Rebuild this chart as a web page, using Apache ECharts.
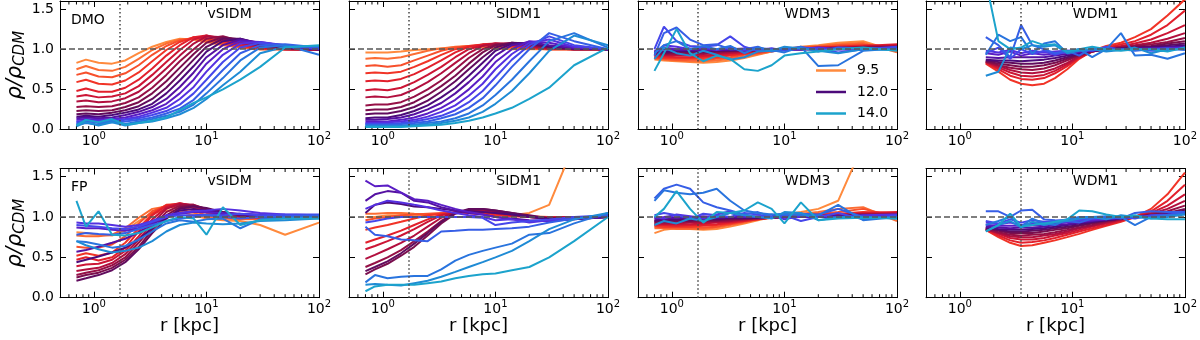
<!DOCTYPE html>
<html>
<head>
<meta charset="utf-8">
<script src="https://cdn.jsdelivr.net/npm/echarts@6/dist/echarts.min.js"></script>
<style>
  html, body { margin: 0; padding: 0; background: #fff; }
  #chart { width: 1200px; height: 340px; }
</style>
</head>
<body>
<div id="chart"></div>
<script>
// radii (kpc) where the profiles are sampled
var radii = [0.7, 0.85, 1.1, 1.45, 1.9, 2.5, 3.3, 4.4, 5.8, 7.7, 10, 14, 20, 30, 50, 100];
var radiiWdm1 = [1.7, 2.2, 2.8, 3.5, 4.4, 5.6, 7, 9, 11.5, 15, 20, 27, 36, 50, 70, 100];
var minorTicks = [0.6, 0.7, 0.8, 0.9, 2, 3, 4, 5, 6, 7, 8, 9, 20, 30, 40, 50, 60, 70, 80, 90];

var massLabels = ['9.5', '9.75', '10.0', '10.25', '10.5', '10.75', '11.0', '11.25', '11.5', '11.75',
                  '12.0', '12.25', '12.5', '12.75', '13.0', '13.25', '13.5', '13.75', '14.0'];
var lineColors = ['#ff8a3d', '#fc6d33', '#f7502c', '#f13427', '#e2202c', '#cc1535', '#b20f3e', '#961046',
                  '#7a0e4d', '#610c5e', '#4c0a7a', '#5511a2', '#5a1dc4', '#5530e0', '#4646ea', '#365ee6',
                  '#2974de', '#1f8bd5', '#1ca3cc'];

var modelNames = ['vSIDM', 'SIDM1', 'WDM3', 'WDM1'];
var runNames = ['DMO', 'FP'];
var rCut = [1.7, 1.7, 1.7, 3.5];
var legendNames = ['9.5', '12.0', '14.0'];

// rho / rho_CDM, one row per halo mass (9.5 ... 14.0)
var dmoVsidm = [
  [0.83,0.87,0.83,0.82,0.86,0.95,1.03,1.09,1.13,1.12,1.09,1.05,1.02,1.0,1.0,1.0],
  [0.75,0.79,0.74,0.73,0.78,0.88,0.99,1.07,1.12,1.13,1.1,1.06,1.02,1.0,1.0,1.0],
  [0.68,0.71,0.66,0.65,0.70,0.80,0.93,1.04,1.11,1.14,1.12,1.07,1.03,1.0,1.0,1.0],
  [0.59,0.62,0.57,0.56,0.61,0.71,0.85,0.99,1.09,1.15,1.14,1.09,1.04,1.01,1.0,1.0],
  [0.48,0.51,0.47,0.47,0.52,0.62,0.76,0.92,1.05,1.15,1.17,1.11,1.05,1.01,1.0,1.0],
  [0.41,0.43,0.40,0.41,0.45,0.54,0.68,0.84,0.99,1.12,1.17,1.13,1.07,1.02,1.0,0.99],
  [0.35,0.36,0.34,0.35,0.39,0.47,0.60,0.76,0.92,1.07,1.16,1.15,1.09,1.03,1.0,0.99],
  [0.28,0.29,0.28,0.29,0.33,0.40,0.52,0.68,0.85,1.0,1.13,1.16,1.1,1.04,1.01,1.0],
  [0.23,0.24,0.23,0.24,0.28,0.34,0.45,0.60,0.77,0.94,1.08,1.15,1.12,1.05,1.01,1.0],
  [0.19,0.20,0.19,0.21,0.24,0.29,0.38,0.52,0.69,0.87,1.03,1.13,1.13,1.06,1.02,1.0],
  [0.16,0.17,0.16,0.18,0.21,0.25,0.32,0.45,0.61,0.79,0.97,1.1,1.13,1.07,1.02,1.0],
  [0.14,0.15,0.14,0.15,0.18,0.22,0.28,0.38,0.53,0.71,0.9,1.05,1.12,1.08,1.03,1.0],
  [0.12,0.13,0.12,0.13,0.15,0.19,0.24,0.32,0.45,0.62,0.82,1.0,1.1,1.09,1.04,1.0],
  [0.10,0.11,0.11,0.12,0.13,0.16,0.21,0.27,0.38,0.53,0.72,0.93,1.07,1.09,1.05,1.0],
  [0.09,0.10,0.09,0.10,0.12,0.14,0.18,0.23,0.31,0.45,0.62,0.84,1.02,1.08,1.05,1.01],
  [0.07,0.12,0.08,0.09,0.10,0.12,0.15,0.20,0.26,0.37,0.53,0.74,0.95,1.05,1.06,1.02],
  [0.06,0.08,0.06,0.11,0.07,0.10,0.13,0.17,0.22,0.31,0.45,0.64,0.86,1.02,1.05,0.93],
  [0.04,0.09,0.05,0.09,0.05,0.08,0.10,0.14,0.19,0.27,0.38,0.55,0.72,0.95,1.03,1.04],
  [0.05,0.12,0.09,0.13,0.06,0.08,0.11,0.15,0.24,0.33,0.40,0.50,0.62,0.78,1.02,1.05]
];
var dmoSidm1 = [
  [0.96,0.96,0.96,0.97,0.99,1.0,1.01,1.02,1.02,1.02,1.01,1.0,1.0,1.0,1.0,1.0],
  [0.88,0.89,0.88,0.9,0.94,0.98,1.01,1.03,1.04,1.04,1.03,1.02,1.01,1.0,1.0,1.0],
  [0.79,0.8,0.78,0.8,0.86,0.92,0.98,1.02,1.04,1.05,1.04,1.02,1.01,1.0,1.0,1.0],
  [0.70,0.71,0.70,0.72,0.78,0.85,0.93,1.0,1.04,1.06,1.06,1.04,1.02,1.0,1.0,1.0],
  [0.60,0.61,0.60,0.63,0.69,0.77,0.86,0.96,1.03,1.06,1.07,1.05,1.02,1.01,1.0,1.0],
  [0.49,0.5,0.49,0.52,0.59,0.68,0.78,0.9,1.0,1.05,1.07,1.06,1.03,1.01,1.0,1.0],
  [0.40,0.41,0.40,0.43,0.5,0.59,0.7,0.83,0.95,1.04,1.07,1.07,1.04,1.01,1.0,1.0],
  [0.30,0.31,0.31,0.34,0.41,0.5,0.61,0.75,0.89,1.0,1.06,1.07,1.05,1.02,1.0,1.0],
  [0.24,0.25,0.25,0.28,0.34,0.43,0.54,0.67,0.82,0.96,1.05,1.08,1.06,1.02,1.0,1.0],
  [0.19,0.2,0.2,0.23,0.28,0.36,0.47,0.6,0.75,0.9,1.02,1.08,1.07,1.03,1.01,1.0],
  [0.14,0.15,0.15,0.18,0.23,0.3,0.4,0.52,0.67,0.83,0.98,1.07,1.08,1.04,1.01,1.0],
  [0.12,0.12,0.13,0.15,0.19,0.25,0.33,0.45,0.59,0.75,0.92,1.05,1.09,1.05,1.01,1.0],
  [0.10,0.1,0.1,0.12,0.15,0.2,0.27,0.37,0.5,0.66,0.84,1.0,1.1,1.08,1.02,1.0],
  [0.08,0.08,0.09,0.1,0.12,0.16,0.22,0.3,0.42,0.57,0.75,0.94,1.08,1.12,1.03,1.0],
  [0.07,0.07,0.07,0.08,0.1,0.13,0.17,0.24,0.34,0.48,0.65,0.87,1.05,1.16,1.05,1.0],
  [0.06,0.06,0.06,0.07,0.08,0.1,0.14,0.19,0.27,0.39,0.55,0.78,1.0,1.2,1.1,1.0],
  [0.05,0.05,0.05,0.05,0.06,0.08,0.1,0.14,0.2,0.3,0.43,0.62,0.85,1.1,1.2,1.02],
  [0.04,0.04,0.04,0.04,0.05,0.06,0.08,0.11,0.15,0.22,0.32,0.48,0.7,0.98,1.17,1.05],
  [0.03,0.03,0.03,0.03,0.04,0.05,0.06,0.08,0.11,0.15,0.2,0.27,0.38,0.52,0.8,1.02]
];
var dmoWdm3 = [
  [0.87,0.86,0.85,0.84,0.83,0.84,0.86,0.89,0.93,0.97,1.0,1.03,1.05,1.08,1.1,0.97],
  [0.88,0.87,0.86,0.85,0.85,0.86,0.88,0.91,0.94,0.97,1.0,1.02,1.04,1.06,1.08,0.96],
  [0.89,0.88,0.87,0.87,0.87,0.88,0.9,0.93,0.95,0.98,1.0,1.02,1.03,1.05,1.06,1.0],
  [0.9,0.89,0.89,0.89,0.89,0.9,0.92,0.94,0.96,0.98,1.0,1.01,1.02,1.03,1.05,1.04],
  [0.91,0.91,0.9,0.9,0.91,0.92,0.93,0.95,0.97,0.99,1.0,1.01,1.02,1.03,1.04,1.06],
  [0.92,0.92,0.92,0.92,0.92,0.93,0.95,0.96,0.98,0.99,1.0,1.01,1.02,1.02,1.03,1.05],
  [0.93,0.93,0.93,0.93,0.94,0.95,0.96,0.97,0.98,0.99,1.0,1.0,1.01,1.02,1.03,1.04],
  [0.94,0.94,0.94,0.95,0.95,0.96,0.97,0.98,0.99,1.0,1.0,1.0,1.01,1.01,1.02,1.03],
  [0.95,0.95,0.96,0.96,0.96,0.97,0.98,0.98,0.99,1.0,1.0,1.0,1.01,1.01,1.02,1.02],
  [0.96,0.96,0.97,0.97,0.97,0.98,0.98,0.99,0.99,1.0,1.0,1.0,1.0,1.01,1.01,1.02],
  [0.97,0.97,0.98,0.98,0.98,0.99,0.99,0.99,1.0,1.0,1.0,1.0,1.0,1.01,1.01,1.01],
  [0.98,1.0,0.99,0.99,0.99,0.99,1.0,1.0,1.0,1.0,1.0,1.0,1.0,1.0,1.01,1.01],
  [0.96,1.02,1.0,1.01,1.0,1.0,1.0,1.01,1.0,1.0,1.0,1.0,1.01,1.0,1.0,1.02],
  [0.95,1.05,1.03,1.0,1.02,0.99,1.02,0.98,1.0,1.01,0.99,1.0,1.02,1.0,0.99,1.02],
  [1.0,1.28,1.1,1.04,1.03,1.05,1.16,1.03,0.98,1.01,0.98,1.02,1.01,0.96,1.0,1.03],
  [0.92,1.2,1.27,1.12,1.05,1.06,1.0,1.0,1.03,0.97,1.0,1.03,0.97,1.02,1.01,1.0],
  [0.95,1.05,1.1,1.0,1.04,1.0,1.04,0.95,1.02,0.99,0.96,1.03,0.79,0.8,0.98,1.01],
  [0.88,1.02,0.95,0.92,0.98,0.93,0.87,0.9,0.97,0.98,1.03,1.01,0.98,0.95,1.0,0.99],
  [0.73,0.95,1.25,0.95,0.85,0.92,0.88,0.75,0.73,0.8,0.92,0.95,0.97,1.0,1.02,0.98]
];
var dmoWdm1 = [
  null, null, null,
  [0.82,0.72,0.62,0.57,0.55,0.57,0.64,0.75,0.88,0.98,1.04,1.08,1.15,1.25,1.42,1.62],
  [0.83,0.75,0.67,0.63,0.62,0.64,0.7,0.79,0.89,0.97,1.02,1.06,1.1,1.18,1.3,1.48],
  [0.84,0.77,0.71,0.67,0.66,0.68,0.73,0.81,0.9,0.97,1.01,1.04,1.07,1.12,1.2,1.3],
  [0.84,0.79,0.74,0.71,0.7,0.72,0.76,0.83,0.91,0.97,1.0,1.03,1.05,1.08,1.13,1.2],
  [0.85,0.8,0.77,0.75,0.74,0.76,0.8,0.86,0.92,0.97,1.0,1.02,1.04,1.06,1.09,1.14],
  [0.85,0.82,0.8,0.78,0.78,0.8,0.83,0.88,0.93,0.97,1.0,1.01,1.03,1.04,1.07,1.1],
  [0.86,0.84,0.83,0.82,0.82,0.83,0.86,0.9,0.94,0.98,1.0,1.01,1.02,1.03,1.05,1.07],
  [0.87,0.86,0.86,0.85,0.86,0.87,0.89,0.92,0.95,0.98,1.0,1.01,1.01,1.02,1.03,1.05],
  [0.9,0.89,0.9,0.9,0.9,0.9,0.92,0.94,0.96,0.98,1.0,1.0,1.01,1.01,1.02,1.03],
  [0.95,0.93,0.97,0.92,0.95,0.93,0.95,0.96,0.97,0.99,1.0,1.0,1.0,1.01,1.01,1.02],
  [0.98,0.96,0.99,0.95,0.98,0.96,0.97,0.98,0.99,0.99,1.0,1.0,1.0,1.0,1.01,1.01],
  [0.95,1.02,0.88,1.0,0.94,0.98,0.93,0.97,1.0,0.98,1.03,0.99,1.0,0.98,0.98,1.02],
  [1.15,1.05,0.9,1.3,1.05,1.0,0.95,0.98,0.92,1.02,0.99,1.0,0.98,1.0,1.01,0.99],
  [0.93,1.18,1.1,1.15,0.95,1.07,1.1,0.95,1.0,0.9,1.0,1.2,0.92,0.93,0.88,0.95],
  [0.67,0.72,1.02,1.0,1.05,1.03,1.05,0.95,0.98,1.0,0.97,0.99,1.02,0.95,1.0,1.0],
  [1.85,1.1,1.0,1.02,1.1,1.05,1.06,0.97,1.0,1.03,1.0,0.98,1.0,1.0,0.97,1.02]
];
var fpVsidm = [
  [0.81,0.8,0.78,0.77,0.83,0.95,1.05,1.08,1.07,1.02,0.98,0.96,0.95,0.9,0.78,0.93],
  [0.77,0.76,0.76,0.78,0.86,0.99,1.1,1.13,1.1,1.05,1.0,0.98,0.97,0.97,0.98,1.0],
  [0.63,0.62,0.62,0.66,0.76,0.92,1.07,1.14,1.13,1.08,1.02,0.99,0.98,0.98,0.99,1.0],
  [0.52,0.55,0.52,0.56,0.68,0.86,1.04,1.15,1.16,1.11,1.05,1.01,0.99,0.99,1.0,1.0],
  [0.47,0.5,0.46,0.5,0.62,0.82,1.02,1.14,1.17,1.13,1.07,1.02,1.0,0.99,1.0,1.0],
  [0.39,0.41,0.42,0.47,0.58,0.76,0.97,1.12,1.17,1.14,1.08,1.03,1.0,1.0,1.0,1.0],
  [0.33,0.35,0.37,0.43,0.54,0.72,0.92,1.1,1.16,1.15,1.09,1.04,1.01,1.0,1.0,1.0],
  [0.28,0.31,0.34,0.4,0.5,0.68,0.88,1.06,1.14,1.15,1.1,1.05,1.02,1.0,1.0,1.0],
  [0.25,0.28,0.31,0.37,0.47,0.63,0.84,1.02,1.12,1.14,1.1,1.06,1.02,1.0,1.0,1.0],
  [0.21,0.24,0.28,0.34,0.44,0.6,0.8,0.98,1.1,1.13,1.11,1.06,1.03,1.01,1.0,1.0],
  [0.44,0.47,0.51,0.56,0.62,0.72,0.86,0.99,1.08,1.1,1.08,1.05,1.03,1.02,1.01,1.0],
  [0.57,0.59,0.63,0.68,0.73,0.81,0.91,1.0,1.05,1.07,1.06,1.04,1.03,1.02,1.01,1.0],
  [0.87,0.86,0.86,0.84,0.83,0.86,0.93,1.0,1.04,1.06,1.06,1.05,1.04,1.03,1.02,1.02],
  [0.93,0.92,0.92,0.9,0.88,0.9,0.95,1.02,1.05,1.07,1.08,1.1,1.08,1.05,1.03,1.02],
  [0.9,0.89,0.88,0.86,0.85,0.88,0.94,1.0,1.02,1.02,1.03,1.02,1.04,1.02,1.03,1.03],
  [0.78,0.8,0.79,0.78,0.8,0.85,0.9,0.95,0.98,1.0,1.02,1.0,0.98,1.0,1.01,1.02],
  [0.7,0.69,0.66,0.62,0.64,0.72,0.82,0.92,0.96,0.94,0.97,0.98,0.86,0.97,0.99,1.0],
  [0.7,0.65,0.6,0.56,0.58,0.62,0.7,0.82,0.9,0.93,0.92,0.91,0.92,0.95,0.96,0.98],
  [1.2,0.88,1.07,0.78,0.77,0.8,0.87,0.95,1.0,0.98,0.78,1.12,0.9,0.96,0.98,0.98]
];
var fpSidm1 = [
  [1.0,1.0,1.02,1.02,1.01,1.02,1.04,1.05,1.05,1.04,1.03,1.02,1.05,1.15,1.9,1.9],
  [1.04,1.04,1.05,1.05,1.04,1.03,1.04,1.05,1.05,1.04,1.03,1.02,1.01,1.0,1.0,1.0],
  [0.96,0.98,1.0,1.02,1.03,1.04,1.05,1.05,1.05,1.04,1.03,1.02,1.0,0.99,1.0,1.0],
  [0.84,0.87,0.9,0.94,0.98,1.02,1.04,1.05,1.05,1.04,1.02,1.01,1.0,0.99,1.0,1.0],
  [0.68,0.72,0.77,0.83,0.9,0.97,1.03,1.06,1.07,1.06,1.04,1.02,1.0,0.99,1.0,1.0],
  [0.6,0.64,0.7,0.77,0.85,0.94,1.02,1.06,1.08,1.07,1.05,1.02,1.0,0.99,1.0,1.0],
  [0.48,0.53,0.6,0.68,0.77,0.88,0.99,1.06,1.08,1.08,1.06,1.03,1.0,0.99,1.0,1.0],
  [0.38,0.43,0.5,0.59,0.7,0.82,0.95,1.05,1.09,1.09,1.07,1.04,1.01,0.98,0.99,1.0],
  [0.29,0.35,0.42,0.52,0.63,0.77,0.92,1.04,1.09,1.1,1.08,1.05,1.01,0.98,0.98,1.0],
  [0.33,0.38,0.45,0.55,0.67,0.8,0.94,1.05,1.1,1.1,1.08,1.05,1.02,0.98,0.98,1.0],
  [1.05,1.15,1.18,1.16,1.13,1.12,1.1,1.08,1.07,1.06,1.05,1.03,1.0,0.97,0.97,1.0],
  [1.2,1.28,1.32,1.3,1.2,1.18,1.12,1.08,1.05,1.03,1.0,0.98,0.96,0.95,0.97,1.0],
  [1.45,1.38,1.39,1.3,1.22,1.2,1.15,1.1,1.06,1.03,1.0,0.97,0.95,0.95,0.98,1.02],
  [1.1,1.15,1.2,1.18,1.15,1.12,1.08,1.05,1.02,1.0,0.96,0.97,0.93,0.96,0.98,1.02],
  [0.93,0.95,0.98,1.0,1.0,1.0,1.0,1.0,1.0,0.99,0.9,0.93,0.95,0.97,1.0,1.02],
  [0.88,0.78,0.76,0.72,0.71,0.7,0.82,0.83,0.84,0.84,0.85,0.86,0.88,0.93,0.98,1.02],
  [0.19,0.28,0.24,0.26,0.27,0.27,0.35,0.46,0.53,0.58,0.62,0.67,0.78,0.8,0.92,1.05],
  [0.16,0.17,0.16,0.15,0.18,0.21,0.26,0.32,0.38,0.44,0.5,0.58,0.7,0.85,0.97,1.05],
  [0.08,0.14,0.16,0.16,0.16,0.18,0.2,0.24,0.27,0.29,0.3,0.34,0.38,0.5,0.7,1.0]
];
var fpWdm3 = [
  [0.8,0.84,0.86,0.85,0.84,0.85,0.88,0.92,0.96,1.0,1.03,1.06,1.1,1.2,1.9,1.9],
  [0.86,0.86,0.85,0.85,0.85,0.87,0.9,0.93,0.97,1.0,1.02,1.04,1.06,1.1,1.12,0.95],
  [0.88,0.87,0.87,0.87,0.87,0.88,0.91,0.94,0.97,1.0,1.02,1.03,1.04,1.06,1.1,1.0],
  [0.89,0.88,0.88,0.88,0.89,0.9,0.92,0.95,0.97,0.99,1.01,1.02,1.03,1.04,1.06,1.05],
  [0.9,0.9,0.89,0.9,0.9,0.91,0.93,0.95,0.97,0.99,1.0,1.01,1.02,1.03,1.05,1.06],
  [0.91,0.91,0.91,0.91,0.92,0.93,0.94,0.96,0.98,0.99,1.0,1.01,1.02,1.03,1.04,1.05],
  [0.92,0.92,0.92,0.93,0.93,0.94,0.95,0.97,0.98,0.99,1.0,1.01,1.01,1.02,1.03,1.04],
  [0.93,0.93,0.94,0.94,0.95,0.95,0.96,0.97,0.98,0.99,1.0,1.0,1.01,1.02,1.03,1.03],
  [0.94,0.94,0.95,0.95,0.96,0.96,0.97,0.98,0.99,0.99,1.0,1.0,1.01,1.01,1.02,1.02],
  [0.95,0.96,0.96,0.96,0.97,0.97,0.98,0.98,0.99,1.0,1.0,1.0,1.01,1.01,1.02,1.02],
  [0.96,0.97,0.97,0.98,0.98,0.98,0.99,0.99,0.99,1.0,1.0,1.0,1.0,1.01,1.01,1.01],
  [0.98,0.98,0.99,0.99,0.99,0.99,1.0,1.0,1.0,1.0,1.0,1.0,1.0,1.01,1.01,1.01],
  [0.99,1.0,1.02,1.0,1.01,1.0,1.05,1.0,1.01,1.0,0.99,1.0,1.01,1.0,1.0,1.02],
  [1.0,0.98,1.03,1.01,0.98,1.03,1.07,1.02,1.0,1.03,0.97,1.01,1.02,0.99,1.02,1.03],
  [1.02,1.05,1.02,0.98,1.04,1.02,1.0,1.05,1.03,0.99,1.02,0.95,1.0,1.05,0.97,1.02],
  [1.23,1.35,1.4,1.35,1.18,1.12,1.08,1.03,1.06,1.0,1.02,1.04,1.03,1.1,1.0,1.0],
  [1.2,1.33,1.3,1.28,1.3,1.35,1.2,1.08,1.05,1.03,1.04,1.02,1.02,1.15,0.96,1.0],
  [0.9,0.95,0.92,0.98,0.95,1.0,1.05,1.02,1.0,0.98,1.06,1.05,0.96,1.0,1.0,0.98],
  [1.0,1.1,1.32,1.1,0.93,1.06,1.05,1.08,1.18,1.1,0.92,1.18,0.96,0.98,0.99,0.98]
];
var fpWdm1 = [
  null, null, null,
  [0.84,0.75,0.68,0.64,0.65,0.68,0.71,0.75,0.79,0.84,0.89,0.94,1.0,1.1,1.28,1.55],
  [0.84,0.77,0.71,0.68,0.69,0.71,0.74,0.78,0.82,0.86,0.9,0.95,1.0,1.07,1.2,1.4],
  [0.85,0.79,0.74,0.72,0.72,0.74,0.77,0.8,0.84,0.88,0.92,0.96,1.0,1.05,1.14,1.28],
  [0.85,0.8,0.76,0.75,0.75,0.77,0.79,0.82,0.86,0.89,0.93,0.97,1.0,1.04,1.1,1.2],
  [0.85,0.81,0.78,0.77,0.78,0.79,0.81,0.84,0.87,0.9,0.94,0.97,1.0,1.03,1.07,1.14],
  [0.86,0.83,0.8,0.8,0.8,0.82,0.84,0.86,0.89,0.92,0.95,0.98,1.0,1.02,1.05,1.1],
  [0.86,0.84,0.82,0.82,0.83,0.84,0.86,0.88,0.9,0.93,0.96,0.98,1.0,1.02,1.04,1.08],
  [0.87,0.85,0.84,0.84,0.85,0.86,0.88,0.9,0.92,0.94,0.96,0.98,1.0,1.01,1.03,1.06],
  [0.88,0.87,0.86,0.87,0.87,0.88,0.9,0.91,0.93,0.95,0.97,0.99,1.0,1.01,1.02,1.05],
  [0.9,0.89,0.89,0.89,0.9,0.9,0.92,0.93,0.94,0.96,0.97,0.99,1.0,1.01,1.02,1.04],
  [0.93,0.91,0.93,0.9,0.92,0.93,0.93,0.94,0.96,0.97,0.98,0.99,1.0,1.01,1.02,1.04],
  [0.95,0.92,0.97,0.93,0.96,0.94,0.95,0.97,0.96,0.99,0.98,1.0,0.98,1.02,1.03,1.05],
  [1.07,1.07,1.0,1.08,1.09,0.97,0.96,0.95,0.93,0.98,1.0,0.98,1.05,1.07,1.06,1.06],
  [0.9,0.95,1.0,0.88,0.98,0.92,0.9,0.97,1.0,1.0,1.01,1.0,0.9,1.0,1.02,1.04],
  [0.82,0.9,0.95,0.87,0.94,0.9,0.93,0.95,0.98,1.0,0.97,1.02,1.0,0.98,1.0,1.03],
  [0.82,0.9,1.04,0.88,0.9,0.92,0.94,0.97,1.08,1.07,1.03,1.0,1.02,0.98,0.97,0.97]
];

var panels = [dmoVsidm, dmoSidm1, dmoWdm3, dmoWdm1, fpVsidm, fpSidm1, fpWdm3, fpWdm1];

var font = 'DejaVu Sans';
var lefts = [60, 349, 638, 926];
var tops = [1, 168.5];
var heights = [128.5, 129.2];
var panelW = 259;

function xLabel(v) {
    var e = Math.log(v) / Math.LN10;
    var k = Math.round(e);
    if (Math.abs(e - k) > 1e-6) return '';
    return '{b|10}{s|' + k + '}';
}

function yLabel(v) {
    if (Math.abs(v - 1.6) < 1e-9) return '';
    return v.toFixed(1);
}

function minorTickItem(params, api) {
    var b = api.coord([api.value(0), 0]);
    var t = api.coord([api.value(0), 1.6]);
    return {
        type: 'group',
        children: [
            { type: 'line', shape: { x1: b[0], y1: b[1], x2: b[0], y2: b[1] - 3.5 }, style: { stroke: '#000', lineWidth: 1 } },
            { type: 'line', shape: { x1: t[0], y1: t[1], x2: t[0], y2: t[1] + 3.5 }, style: { stroke: '#000', lineWidth: 1 } }
        ]
    };
}

var grids = [], xAxes = [], yAxes = [], series = [], graphics = [];
var axisLine = { show: true, onZero: false, lineStyle: { color: '#000', width: 1 } };
var majorTick = { show: true, inside: true, length: 6, lineStyle: { color: '#000', width: 1 } };

panels.forEach(function (lines, p) {
    var row = Math.floor(p / 4), col = p % 4;
    var xs = col === 3 ? radiiWdm1 : radii;
    grids.push({ left: lefts[col], top: tops[row], width: panelW, height: heights[row] });

    xAxes.push({
        type: 'log', logBase: 10, min: 0.5, max: 100, gridIndex: p, position: 'bottom',
        axisLine: axisLine, axisTick: majorTick, splitLine: { show: false },
        axisLabel: {
            formatter: xLabel, margin: 2, color: '#000',
            rich: {
                b: { fontSize: 14, fontFamily: font, color: '#000' },
                s: { fontSize: 10, fontFamily: font, color: '#000', padding: [0, 0, 10, 0] }
            }
        },
        name: row === 1 ? 'r [kpc]' : '', nameLocation: 'middle', nameGap: 20,
        nameTextStyle: { fontSize: 18, fontFamily: font, color: '#000' }
    });
    xAxes.push({
        type: 'log', logBase: 10, min: 0.5, max: 100, gridIndex: p, position: 'top',
        axisLine: axisLine, axisTick: majorTick, axisLabel: { show: false }, splitLine: { show: false }
    });
    yAxes.push({
        type: 'value', min: 0, max: 1.6, interval: 0.5, gridIndex: p, position: 'left',
        axisLine: axisLine, axisTick: majorTick, splitLine: { show: false },
        axisLabel: { show: col === 0, formatter: yLabel, margin: 6, fontSize: 14, fontFamily: font, color: '#000' },
        name: col === 0 ? '{a|ρ/ρ}{c|CDM}' : '', nameLocation: 'middle', nameRotate: 90, nameGap: 30,
        nameTextStyle: {
            rich: {
                a: { fontSize: 21, fontStyle: 'italic', fontFamily: font, color: '#000' },
                c: { fontSize: 15, fontStyle: 'italic', fontFamily: font, color: '#000', padding: [10, 0, 0, 0] }
            }
        }
    });
    yAxes.push({
        type: 'value', min: 0, max: 1.6, interval: 0.5, gridIndex: p, position: 'right',
        axisLine: axisLine, axisTick: majorTick, axisLabel: { show: false }, splitLine: { show: false }
    });

    var drawn = [];
    lines.forEach(function (vals, i) {
        if (vals) drawn.push(i);
    });
    drawn.forEach(function (i, n) {
        var vals = lines[i];
        var name = (p === 2 && legendNames.indexOf(massLabels[i]) >= 0) ? massLabels[i] : ('p' + p + '_' + i);
        var s = {
            type: 'line', name: name, xAxisIndex: 2 * p, yAxisIndex: 2 * p,
            data: xs.map(function (r, k) { return [r, vals[k]]; }),
            showSymbol: false, symbol: 'none', silent: true, clip: true,
            lineStyle: { width: 2, color: lineColors[i] },
            itemStyle: { color: lineColors[i] }
        };
        // dashed y=1 under the first line, dotted radius cut over the last one
        if (n === 0) {
            s.markLine = {
                silent: true, symbol: ['none', 'none'], label: { show: false },
                lineStyle: { type: [6, 3], color: '#555', width: 1.5 },
                data: [{ yAxis: 1 }]
            };
        }
        if (n === drawn.length - 1) {
            s.markLine = {
                silent: true, symbol: ['none', 'none'], label: { show: false },
                lineStyle: { type: [1.5, 2.5], color: '#444', width: 1.5 },
                data: [{ xAxis: rCut[col] }]
            };
        }
        series.push(s);
    });
    series.push({
        type: 'custom', xAxisIndex: 2 * p, yAxisIndex: 2 * p, silent: true,
        data: minorTicks.map(function (t) { return [t, 0]; }),
        renderItem: minorTickItem
    });

    graphics.push({
        type: 'text', x: lefts[col] + panelW * 0.655, y: row === 0 ? 14 : 181,
        style: { text: modelNames[col], fontSize: 14, fontFamily: font, fill: '#000', align: 'center', verticalAlign: 'middle' }
    });
    if (col === 0) {
        graphics.push({
            type: 'text', x: 71, y: row === 0 ? 20 : 187,
            style: { text: runNames[row], fontSize: 14, fontFamily: font, fill: '#000', align: 'left', verticalAlign: 'middle' }
        });
    }
});

var chart = echarts.init(document.getElementById('chart'), null, { renderer: 'canvas' });
chart.setOption({
    animation: false,
    backgroundColor: '#fff',
    grid: grids,
    xAxis: xAxes,
    yAxis: yAxes,
    legend: {
        data: legendNames, orient: 'vertical', left: 811, top: 57,
        icon: 'rect', itemWidth: 30, itemHeight: 2.5, itemGap: 4.5, selectedMode: false,
        textStyle: { fontSize: 14, fontFamily: font, color: '#000', lineHeight: 17, padding: [0, 0, 0, 6] }
    },
    graphic: graphics,
    series: series
});
</script>
</body>
</html>
